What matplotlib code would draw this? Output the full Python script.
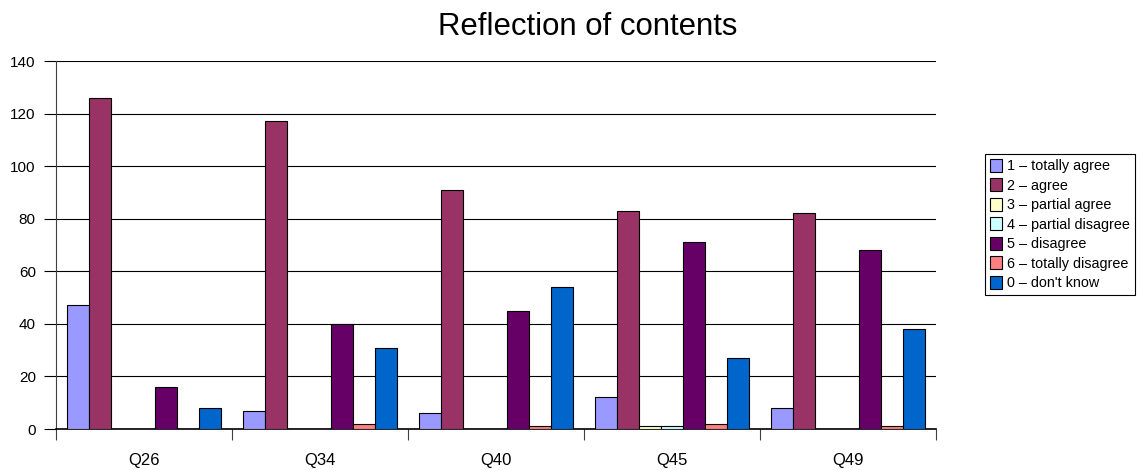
import matplotlib
matplotlib.use("Agg")
from matplotlib import pyplot as plt
import numpy as np

plt.rcParams['font.family'] = ['Liberation Sans', 'DejaVu Sans']

questions = ['Q26', 'Q34', 'Q40', 'Q45', 'Q49']
answers = ['1 – totally agree', '2 – agree', '3 – partial agree',
           '4 – partial disagree', '5 – disagree', '6 – totally disagree',
           "0 – don't know"]
colors = ['#9999FF', '#993366', '#FFFFCC', '#CCFFFF', '#660066', '#FF8080', '#0066CC']

totally_agree = [47, 7, 6, 12, 8]
agree = [126, 117, 91, 83, 82]
partial_agree = [0, 0, 0, 1, 0]
partial_disagree = [0, 0, 0, 1, 0]
disagree = [16, 40, 45, 71, 68]
totally_disagree = [0, 2, 1, 2, 1]
dont_know = [8, 31, 54, 27, 38]

series = [totally_agree, agree, partial_agree, partial_disagree,
          disagree, totally_disagree, dont_know]

fig = plt.figure(figsize=(11.41, 4.70), dpi=100)
ax = fig.add_axes([0.049, 0.0872, 0.771, 0.783])

x = np.arange(len(questions))
width = 0.125
for i, (vals, lab, col) in enumerate(zip(series, answers, colors)):
    offs = (i - 3) * width
    ax.bar(x + offs, vals, width, color=col, edgecolor='black',
           linewidth=0.8, label=lab, zorder=3)

ax.set_xlim(-0.5, len(questions) - 0.5)
ax.set_ylim(0, 140)
ax.set_yticks(range(0, 141, 20))
ax.yaxis.grid(True, color='black', linewidth=0.8, zorder=0)
ax.set_axisbelow(True)

# category labels in the middle, tick marks on group borders
ax.set_xticks(x)
ax.set_xticklabels(questions, fontsize=12)
ax.tick_params(axis='x', length=0, pad=17)
ax.set_xticks(np.arange(-0.5, len(questions)), minor=True)
ax.tick_params(axis='x', which='minor', length=8, width=0.8, color='#404040')
ax.tick_params(axis='y', length=8.5, width=0.8, pad=6, labelsize=11)

for side in ['top', 'right']:
    ax.spines[side].set_visible(False)
ax.spines['left'].set_color('#404040')
ax.spines['bottom'].set_linewidth(1.2)

fig.text(0.515, 0.9255, 'Reflection of contents', fontsize=22.4,
         ha='center', va='baseline')

leg = ax.legend(loc='center left', bbox_to_anchor=(1.0557, 0.556), fontsize=10.4,
                frameon=True, fancybox=False, framealpha=1, edgecolor='black',
                handlelength=0.85, handleheight=1.0, handletextpad=0.35,
                labelspacing=0.35, borderpad=0.35, borderaxespad=0)
leg.get_frame().set_linewidth(0.8)

fig.savefig('out.png', dpi=100)
